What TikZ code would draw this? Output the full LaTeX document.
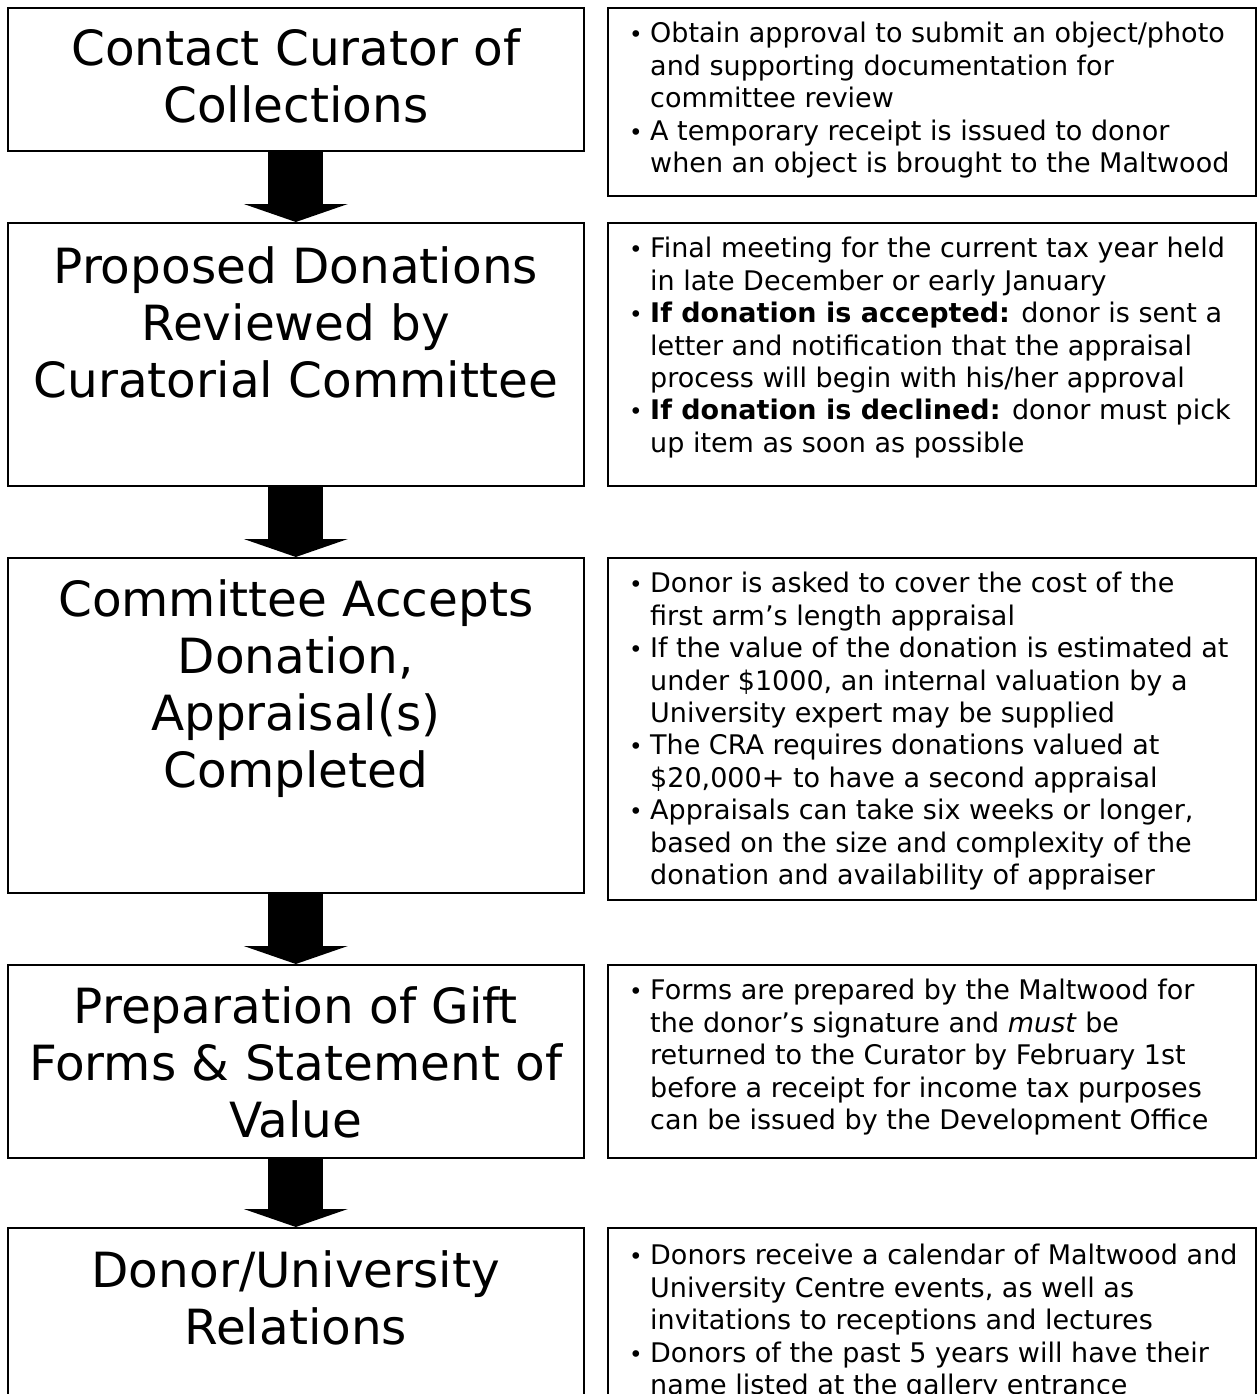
\documentclass[tikz,border=0pt]{standalone}
\usepackage{fontspec}
\setmainfont{DejaVu Sans}
\usetikzlibrary{arrows.meta,positioning}

\tikzset{
  frame/.style={draw, line width=1.6pt, anchor=north west, inner sep=0pt, minimum width=576pt},
  notebox/.style={draw, line width=1.6pt, anchor=north west, inner sep=0pt, minimum width=648pt},
  title/.style={anchor=north, align=center, inner sep=0pt, font=\fontsize{48.5}{57}\selectfont,
    execute at begin node=\strut},
  notes/.style={anchor=north west, align=left, inner sep=0pt, font=\fontsize{27}{32.4}\selectfont},
  bigarrow/.style={line width=55pt, -{Triangle[width=104pt,length=18pt,line width=0pt]}}
}
\newcommand{\bul}{\strut\makebox[21pt][l]{\scalebox{0.85}{•}}}
\newcommand{\ind}{\hspace*{21pt}}

\begin{document}
\begin{tikzpicture}[x=1pt,y=-1pt]
\useasboundingbox (0,0) rectangle (1258,1394);
\clip (0,0) rectangle (1258,1394);
%% Step boxes (left)
\node[frame, minimum height=143pt] (step1) at (7,7) {};
\node[frame, minimum height=263pt] (step2) at (7,222) {};
\node[frame, minimum height=335pt] (step3) at (7,557) {};
\node[frame, minimum height=193pt] (step4) at (7,964) {};
\node[frame, minimum height=200pt] (step5) at (7,1227) {};
%% Note boxes (right)
\node[notebox, minimum height=188pt] (note1) at (607,7) {};
\node[notebox, minimum height=263pt] (note2) at (607,222) {};
\node[notebox, minimum height=342pt] (note3) at (607,557) {};
\node[notebox, minimum height=193pt] (note4) at (607,964) {};
\node[notebox, minimum height=200pt] (note5) at (607,1227) {};
%% Titles
\node[title] (title1) at ([yshift=-21pt]step1.north) {Contact Curator of\\Collections};
\node[title] (title2) at ([yshift=-24pt]step2.north) {Proposed Donations\\Reviewed by\\Curatorial Committee};
\node[title] (title3) at ([yshift=-22pt]step3.north) {Committee Accepts\\Donation,\\Appraisal(s)\\Completed};
\node[title] (title4) at ([yshift=-22pt]step4.north) {Preparation of Gift\\Forms \& Statement of\\Value};
\node[title] (title5) at ([yshift=-23pt]step5.north) {Donor/University\\Relations};
%% Notes
\node[notes] (text1) at ([xshift=22pt,yshift=-13pt]note1.north west) {%
\bul Obtain approval to submit an object/photo\\
\ind and supporting documentation for\\
\ind committee review\\
\bul A temporary receipt is issued to donor\\
\ind when an object is brought to the Maltwood};
\node[notes] (text2) at ([xshift=22pt,yshift=-13pt]note2.north west) {%
\bul Final meeting for the current tax year held\\
\ind in late December or early January\\
\bul \textbf{If donation is accepted:} donor is sent a\\
\ind letter and notification that the appraisal\\
\ind process will begin with his/her approval\\
\bul \textbf{If donation is declined:} donor must pick\\
\ind up item as soon as possible};
\node[notes] (text3) at ([xshift=22pt,yshift=-13pt]note3.north west) {%
\bul Donor is asked to cover the cost of the\\
\ind first arm’s length appraisal\\
\bul If the value of the donation is estimated at\\
\ind under \$1000, an internal valuation by a\\
\ind University expert may be supplied\\
\bul The CRA requires donations valued at\\
\ind \$20,000+ to have a second appraisal\\
\bul Appraisals can take six weeks or longer,\\
\ind based on the size and complexity of the\\
\ind donation and availability of appraiser};
\node[notes] (text4) at ([xshift=22pt,yshift=-13pt]note4.north west) {%
\bul Forms are prepared by the Maltwood for\\
\ind the donor’s signature and \emph{must} be\\
\ind returned to the Curator by February 1st\\
\ind before a receipt for income tax purposes\\
\ind can be issued by the Development Office};
\node[notes] (text5) at ([xshift=22pt,yshift=-15pt]note5.north west) {%
\bul Donors receive a calendar of Maltwood and\\
\ind University Centre events, as well as\\
\ind invitations to receptions and lectures\\
\bul Donors of the past 5 years will have their\\
\ind name listed at the gallery entrance};
%% Arrows
\draw[bigarrow] (step1.south) -- (step2.north);
\draw[bigarrow] (step2.south) -- (step3.north);
\draw[bigarrow] (step3.south) -- (step4.north);
\draw[bigarrow] (step4.south) -- (step5.north);
\end{tikzpicture}
\end{document}
